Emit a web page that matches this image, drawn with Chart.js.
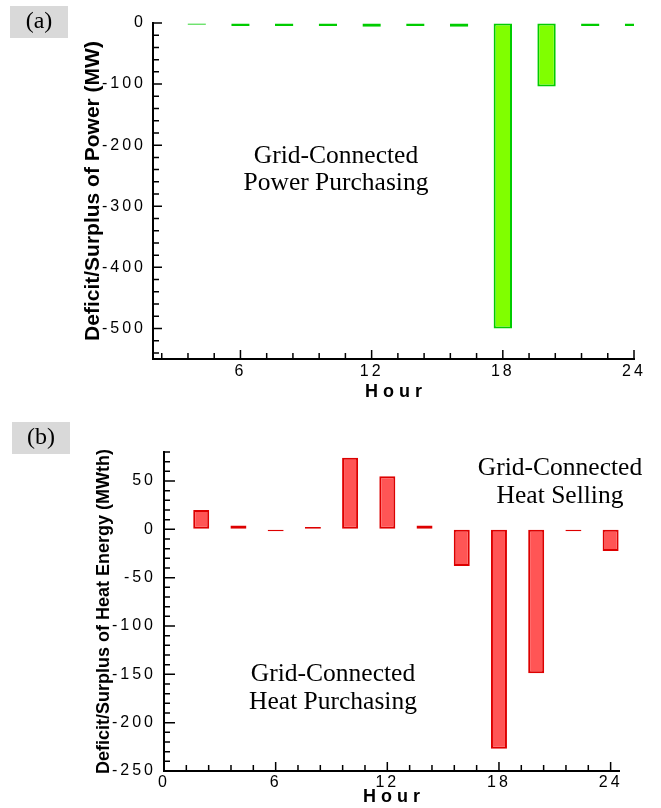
<!DOCTYPE html>
<html>
<head>
<meta charset="utf-8">
<script src="https://cdn.jsdelivr.net/npm/chart.js@4.4.0/dist/chart.umd.min.js"></script>
<style>
body { margin: 0; background: #fff; }
#wrap { position: relative; width: 661px; height: 808px; }
canvas { position: absolute; left: 0; }
#c1 { top: 0; }
#c2 { top: 410px; }
</style>
</head>
<body>
<div id="wrap">
  <canvas id="c1" width="661" height="410"></canvas>
  <canvas id="c2" width="661" height="398"></canvas>
</div>
<script>
// ===== data (a) power =====
var powerHours  = [4, 6, 8, 10, 12, 14, 16, 18, 20, 22, 24];
var powerValues = [-3, -5, -5, -5, -6, -5, -6, -500, -104, -5, -5];
var powerXLabels = [6, 12, 18, 24];
var powerYLabels = [0, -100, -200, -300, -400, -500];

// ===== data (b) heat =====
var heatHours  = [2, 4, 6, 8, 10, 12, 14, 16, 18, 20, 22, 24];
var heatValues = [20, 4, -2, 2.5, 74, 55, 4, -38, -227, -149, -2, -22.5];
var heatXLabels = [0, 6, 12, 18, 24];
var heatYLabels = [50, 0, -50, -100, -150, -200, -250];

var SANS = "'Liberation Sans', Arial, sans-serif";
var SERIF = "'Liberation Serif', 'Times New Roman', serif";

function isMajor(v, list) {
  for (var i = 0; i < list.length; i++) if (Math.abs(list[i] - v) < 1e-6) return true;
  return false;
}

// draws inward ticks, axis titles, annotations and panel label
function decor(o) {
  return {
    id: 'decor',
    beforeDraw: function (chart) { chart.ctx.letterSpacing = '3px'; },
    afterDraw: function (chart) {
      var ctx = chart.ctx, a = chart.chartArea, xs = chart.scales.x, ys = chart.scales.y;
      ctx.save();
      ctx.letterSpacing = '0px';
      ctx.strokeStyle = '#000';
      ctx.lineWidth = 1.5;
      ctx.beginPath();
      var i, v, p, len;
      for (i = 0; ; i++) {
        v = o.xStart + i * o.xStep;
        if (v > xs.max + 1e-6) break;
        p = xs.getPixelForValue(v);
        len = isMajor(v, o.xLabels) ? 9 : 6;
        ctx.moveTo(p, a.bottom); ctx.lineTo(p, a.bottom - len);
      }
      for (i = 0; ; i++) {
        v = o.yStart - i * o.yStep;
        if (v < ys.min - 1e-6) break;
        p = ys.getPixelForValue(v);
        len = isMajor(v, o.yLabels) ? o.yMajorLen : 6;
        ctx.moveTo(a.left, p); ctx.lineTo(a.left + len, p);
      }
      ctx.stroke();

      // x title
      ctx.fillStyle = '#000';
      ctx.font = 'bold 18px ' + SANS;
      ctx.letterSpacing = '5px';
      ctx.textAlign = 'center';
      ctx.textBaseline = 'middle';
      ctx.fillText('Hour', (a.left + a.right) / 2 + 2.5, o.xTitleY);

      // y title
      ctx.letterSpacing = '0px';
      ctx.font = 'bold ' + o.yTitleSize + 'px ' + SANS;
      ctx.save();
      ctx.translate(o.yTitleX, (a.top + a.bottom) / 2);
      ctx.rotate(-Math.PI / 2);
      ctx.fillText(o.yTitle, 0, 0);
      ctx.restore();

      // annotations
      ctx.font = '25.5px ' + SERIF;
      ctx.textBaseline = 'alphabetic';
      o.notes.forEach(function (n) {
        ctx.fillText(n[0], n[1], n[2]);
      });

      // panel label
      ctx.fillStyle = '#d9d9d9';
      ctx.fillRect(o.box[0], o.box[1], 58, 32);
      ctx.fillStyle = '#000';
      ctx.font = '24px ' + SERIF;
      ctx.textBaseline = 'middle';
      ctx.fillText(o.panel, o.box[0] + 29, o.box[1] + 16);
      ctx.restore();
    }
  };
}

function makeChart(id, cfg) {
  var tickFont = { family: SANS, size: 16 };
  return new Chart(document.getElementById(id), {
    type: 'bar',
    data: {
      datasets: [{
        data: cfg.hours.map(function (h, i) { return { x: h, y: cfg.values[i] }; }),
        backgroundColor: cfg.fill,
        borderColor: cfg.stroke,
        borderWidth: 2,
        borderSkipped: false,
        barPercentage: cfg.barPct,
        categoryPercentage: 1,
        clip: 0
      }]
    },
    options: {
      responsive: false,
      animation: false,
      events: [],
      layout: { padding: cfg.padding },
      plugins: { legend: { display: false }, tooltip: { enabled: false } },
      scales: {
        x: {
          type: 'linear', min: cfg.xMin, max: cfg.xMax, offset: false,
          grid: { display: true, drawOnChartArea: false, drawTicks: false },
          border: { display: true, color: '#000', width: 2 },
          ticks: { font: tickFont, color: '#000', padding: cfg.xPad, maxRotation: 0, autoSkip: false },
          afterBuildTicks: function (s) { s.ticks = cfg.xLabels.map(function (v) { return { value: v }; }); },
          afterFit: function (s) { s.height = cfg.xHeight; }
        },
        y: {
          min: cfg.yMin, max: cfg.yMax,
          grid: { display: true, drawOnChartArea: false, drawTicks: false },
          border: { display: true, color: '#000', width: 2 },
          ticks: { font: tickFont, color: '#000', padding: cfg.yPad, autoSkip: false },
          afterBuildTicks: function (s) { s.ticks = cfg.yLabels.map(function (v) { return { value: v }; }); },
          afterFit: function (s) { s.width = cfg.yWidth; }
        }
      }
    },
    plugins: [decor(cfg.decor)]
  });
}

makeChart('c1', {
  hours: powerHours, values: powerValues,
  fill: '#80ff00', stroke: '#00cc00', barPct: 0.42,
  xMin: 2, xMax: 24, yMin: -550, yMax: 0,
  xLabels: powerXLabels, yLabels: powerYLabels,
  padding: { top: 23, right: 27, left: 0, bottom: 0 },
  xHeight: 51, yWidth: 153, xPad: 3, yPad: 7,
  decor: {
    xStart: 2.4, xStep: 1.2, yStart: 0, yStep: 20, yMajorLen: 9,
    xLabels: powerXLabels, yLabels: powerYLabels,
    xTitleY: 392, yTitleX: 93, yTitleSize: 21,
    yTitle: 'Deficit/Surplus of Power (MW)',
    notes: [['Grid-Connected', 336, 163], ['Power Purchasing', 336, 190]],
    box: [10, 6], panel: '(a)'
  }
});

makeChart('c2', {
  hours: heatHours, values: heatValues,
  fill: '#ff5555', stroke: '#dd0000', barPct: 0.43,
  xMin: 0, xMax: 24.45, yMin: -250, yMax: 80,
  xLabels: heatXLabels, yLabels: heatYLabels,
  padding: { top: 42, right: 42, left: 0, bottom: 0 },
  xHeight: 37, yWidth: 164, xPad: 2, yPad: 8,
  decor: {
    xStart: 0, xStep: 1.2, yStart: 80, yStep: 10, yMajorLen: 11,
    xLabels: heatXLabels, yLabels: heatYLabels,
    xTitleY: 387, yTitleX: 104, yTitleSize: 18,
    yTitle: 'Deficit/Surplus of Heat Energy (MWth)',
    notes: [['Grid-Connected', 560, 65], ['Heat Selling', 560, 93],
            ['Grid-Connected', 333, 271], ['Heat Purchasing', 333, 299]],
    box: [12, 12], panel: '(b)'
  }
});
</script>
</body>
</html>
